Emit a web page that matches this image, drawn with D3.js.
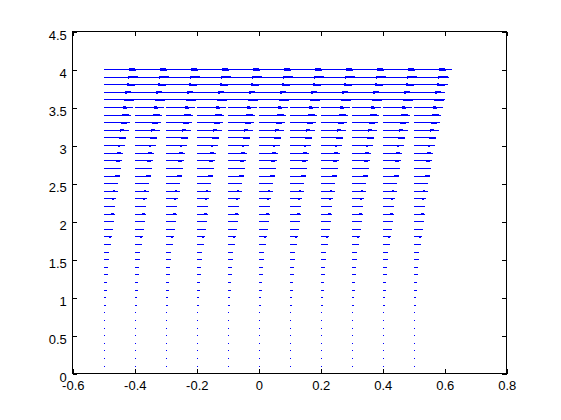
<!DOCTYPE html>
<html>
<head>
<meta charset="utf-8">
<script src="https://cdn.jsdelivr.net/npm/d3@7"></script>
<style>
  html, body { margin: 0; padding: 0; background: #ffffff; }
  svg { display: block; }
  .tick text { font-family: "Liberation Sans", Arial, Helvetica, sans-serif; font-size: 13px; fill: #000; }
</style>
</head>
<body>
<svg id="chart" width="561" height="420"></svg>
<script>
// ---- data (quiver: horizontal arrows pointing right) ----
const columnX = [-0.5, -0.4, -0.3, -0.2, -0.1, 0, 0.1, 0.2, 0.3, 0.4, 0.5];
const rowY = [0.1, 0.2, 0.3, 0.4, 0.5, 0.6, 0.7, 0.8, 0.9, 1.0,
              1.1, 1.2, 1.3, 1.4, 1.5, 1.6, 1.7, 1.8, 1.9, 2.0,
              2.1, 2.2, 2.3, 2.4, 2.5, 2.6, 2.7, 2.8, 2.9, 3.0,
              3.1, 3.2, 3.3, 3.4, 3.5, 3.6, 3.7, 3.8, 3.9, 4.0];
// drawn arrow length (x data units) for each row, same in every column
const arrowU = [0.001, 0.001, 0.0015, 0.002, 0.002, 0.0025, 0.003, 0.004, 0.0065, 0.0075,
                0.009, 0.011, 0.013, 0.015, 0.017, 0.018, 0.022, 0.027, 0.031, 0.033,
                0.035, 0.037, 0.040, 0.045, 0.047, 0.052, 0.054, 0.060, 0.062, 0.067,
                0.073, 0.080, 0.083, 0.088, 0.093, 0.099, 0.102, 0.110, 0.115, 0.122];
const xTicks = [-0.6, -0.4, -0.2, 0, 0.2, 0.4, 0.6, 0.8];
const yTicks = [0, 0.5, 1, 1.5, 2, 2.5, 3, 3.5, 4, 4.5];

// ---- layout ----
const padL = 72.8, padR = 506.8, padT = 31.5, padB = 373.8;
const svg = d3.select("#chart");
const x = d3.scaleLinear().domain([-0.6, 0.8]).range([padL, padR]);
const y = d3.scaleLinear().domain([0, 4.5]).range([padB, padT]);
const tickLen = 4.3;
const fmt = d => String(+d.toFixed(2));

// arrows
const alpha = 0.33, beta = 0.33;
const arrows = [];
rowY.forEach((yy, i) => {
  columnX.forEach(xx => arrows.push({ x: xx, y: yy, u: arrowU[i] }));
});
const arrowColor = "#0000ff";
const g = svg.append("g");
g.selectAll("path.shaft").data(arrows).join("path")
  .attr("class", "shaft")
  .attr("d", d => {
    const x0 = x(d.x), x1 = Math.max(x(d.x + d.u), x0 + 1);
    return `M${x0},${y(d.y)}L${x1},${y(d.y)}`;
  })
  .attr("stroke", arrowColor).attr("stroke-width", 1).attr("fill", "none")
  .attr("shape-rendering", "crispEdges");
g.selectAll("path.head").data(arrows.filter(d => x(d.x + d.u) - x(d.x) > 2)).join("path")
  .attr("class", "head")
  .attr("d", d => {
    const tx = d.x + d.u, back = tx - alpha * d.u, off = alpha * beta * d.u;
    return `M${x(back)},${y(d.y + off)}L${x(tx)},${y(d.y)}L${x(back)},${y(d.y - off)}`;
  })
  .attr("stroke", arrowColor).attr("stroke-width", 1).attr("fill", "none")
  .attr("shape-rendering", "crispEdges");

// axes
const axB = svg.append("g").attr("transform", `translate(0,${padB})`)
  .call(d3.axisBottom(x).tickValues(xTicks).tickFormat(fmt).tickSize(-tickLen).tickPadding(7));
const axL = svg.append("g").attr("transform", `translate(${padL},0)`)
  .call(d3.axisLeft(y).tickValues(yTicks).tickFormat(fmt).tickSize(-tickLen).tickPadding(6));
const axT = svg.append("g").attr("transform", `translate(0,${padT})`)
  .call(d3.axisTop(x).tickValues(xTicks).tickFormat("").tickSize(-tickLen));
const axR = svg.append("g").attr("transform", `translate(${padR},0)`)
  .call(d3.axisRight(y).tickValues(yTicks).tickFormat("").tickSize(-tickLen));
[axB, axL, axT, axR].forEach(a => {
  a.select(".domain").remove();
  a.selectAll(".tick line").attr("stroke", "#000").attr("shape-rendering", "crispEdges");
});
axB.selectAll(".tick text").attr("dy", "0.71em");
axL.selectAll(".tick text").attr("dy", "0.62em");

svg.append("rect")
  .attr("x", padL).attr("y", padT).attr("width", padR - padL).attr("height", padB - padT)
  .attr("fill", "none").attr("stroke", "#000").attr("stroke-width", 1)
  .attr("shape-rendering", "crispEdges");
</script>
</body>
</html>
